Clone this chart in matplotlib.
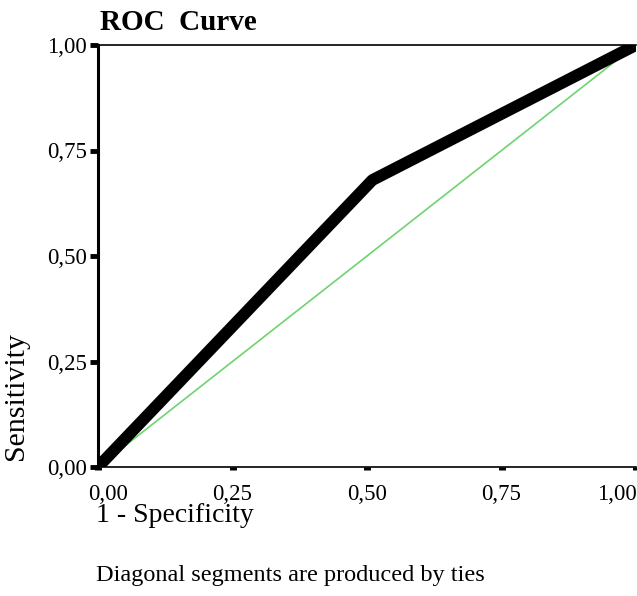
import matplotlib
matplotlib.use('Agg')
import matplotlib.pyplot as plt
from matplotlib.transforms import ScaledTranslation

# ROC data
fpr = [0.0, 0.51, 1.0]
tpr = [0.0, 0.68, 1.0]
ref_line = [0.0, 1.0]
tick_vals = [0.0, 0.25, 0.50, 0.75, 1.0]
tick_labels = ['0,00', '0,25', '0,50', '0,75', '1,00']

plt.rcParams['font.family'] = ['Liberation Serif', 'DejaVu Serif']

fig = plt.figure(figsize=(6.37, 5.96), dpi=100)
ax = fig.add_axes([98/637, 129/596, 538/637, 422/596])

ax.plot(ref_line, ref_line, color='#6fd36f', lw=1.2, zorder=2)
ax.plot(fpr, tpr, color='black', lw=8.5, solid_capstyle='butt', zorder=3)

ax.set_xlim(0, 1)
ax.set_ylim(0, 1)

ax.spines['right'].set_visible(False)
ax.spines['left'].set_linewidth(2.2)
ax.spines['top'].set_linewidth(1.2)
ax.spines['bottom'].set_linewidth(1.2)

ax.set_xticks(tick_vals)
ax.set_xticklabels(tick_labels, fontsize=16.5)
ax.set_yticks(tick_vals)
ax.set_yticklabels(tick_labels, fontsize=16.5)

ax.tick_params(axis='x', direction='out', length=2.5, width=5, pad=10)
ax.tick_params(axis='y', direction='out', length=6, width=3.5, pad=2)

# nudge the end labels like the original
xl = ax.get_xticklabels()
xl[0].set_transform(xl[0].get_transform() + ScaledTranslation(10/100, 0, fig.dpi_scale_trans))
xl[-1].set_transform(xl[-1].get_transform() + ScaledTranslation(-19/100, 0, fig.dpi_scale_trans))

fig.text(100/637, 1 - 22/596, 'ROC  Curve', fontsize=21, fontweight='bold',
         va='center', ha='left')
fig.text(16/637, 1 - 396/596, 'Sensitivity', fontsize=21.5, rotation=90,
         va='center', ha='center')
fig.text(96/637, 1 - 516/596, '1 - Specificity', fontsize=20,
         va='center', ha='left')
fig.text(96/637, 1 - 575/596, 'Diagonal segments are produced by ties',
         fontsize=17.5, va='center', ha='left')

fig.savefig('out.png', dpi=100)
